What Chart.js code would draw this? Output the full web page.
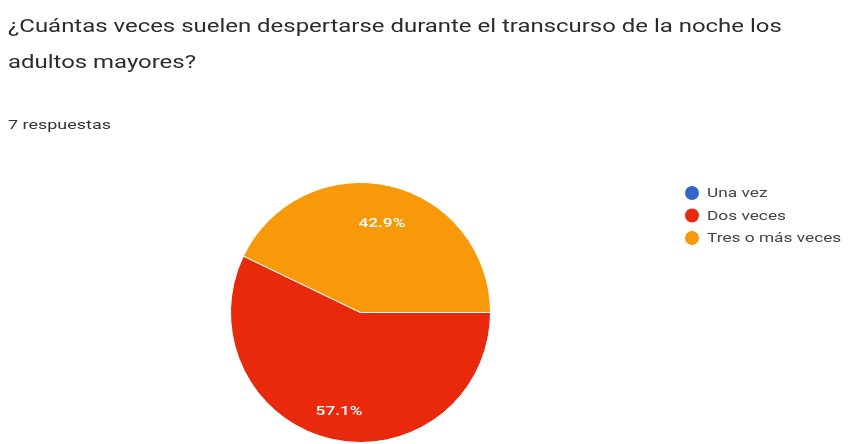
<!DOCTYPE html>
<html lang="es">
<head>
<meta charset="utf-8">
<title>¿Cuántas veces suelen despertarse durante el transcurso de la noche los adultos mayores?</title>
<script src="https://cdn.jsdelivr.net/npm/chart.js@4/dist/chart.umd.min.js"></script>
<style>
  html, body { margin: 0; padding: 0; background: #fff; }
  #wrap { position: relative; width: 852px; height: 444px; overflow: hidden; }
  #chart { position: absolute; left: 0; top: 0; }
  .question {
    position: absolute; left: 8px; top: 8px;
    font-family: Roboto, sans-serif; font-size: 18px; line-height: 36px;
    color: #2b2b2b; white-space: nowrap; transform-origin: 0 0;
  }
  .count {
    position: absolute; left: 8px; top: 116px;
    font-family: Roboto, sans-serif; font-size: 13.5px; color: #333;
    white-space: nowrap; transform-origin: 0 0;
  }
</style>
</head>
<body>
<div id="wrap">
  <canvas id="chart" width="852" height="444"></canvas>
  <div class="question" id="question">¿Cuántas veces suelen despertarse durante el transcurso de la noche los<br>adultos mayores?</div>
  <div class="count" id="count">7 respuestas</div>
</div>
<script>
// answers and how many people picked each one
const categories = ['Una vez', 'Dos veces', 'Tres o más veces'];
const responses = [0, 4, 3];
const sliceColors = ['#3366cc', '#e8290c', '#f8990a'];

// the form text is drawn a bit wider than plain Roboto
const textStretch = 1.33;
document.getElementById('question').style.transform = 'scaleX(' + textStretch + ')';
document.getElementById('count').style.transform = 'scaleX(' + textStretch + ')';

// percentage labels inside each slice
const percentLabels = {
  id: 'percentLabels',
  afterDatasetsDraw(chart) {
    const { ctx } = chart;
    const values = chart.data.datasets[0].data;
    const total = values.reduce((a, b) => a + b, 0);
    chart.getDatasetMeta(0).data.forEach((arc, i) => {
      if (!values[i]) return;
      const { x, y, startAngle, endAngle, outerRadius } = arc.getProps(['x', 'y', 'startAngle', 'endAngle', 'outerRadius']);
      const mid = (startAngle + endAngle) / 2;
      const r = outerRadius * 0.74;
      const lx = x + Math.cos(mid) * r;
      const ly = y + Math.sin(mid) * r + 5;
      ctx.save();
      ctx.translate(lx, ly);
      ctx.scale(textStretch, 1);
      ctx.fillStyle = '#fff';
      ctx.font = '500 13px Roboto, sans-serif';
      ctx.textAlign = 'center';
      ctx.textBaseline = 'middle';
      ctx.fillText((values[i] / total * 100).toFixed(1) + '%', 0, 0);
      ctx.restore();
    });
  }
};

// legend on the right: colored dot + answer text
const sideLegend = {
  id: 'sideLegend',
  afterDraw(chart) {
    const { ctx } = chart;
    const colors = chart.data.datasets[0].backgroundColor;
    chart.data.labels.forEach((label, i) => {
      const y = 193 + i * 22.5;
      ctx.save();
      ctx.fillStyle = colors[i];
      ctx.beginPath();
      ctx.arc(692, y, 7, 0, Math.PI * 2);
      ctx.fill();
      ctx.translate(707, y + 1);
      ctx.scale(textStretch, 1);
      ctx.fillStyle = '#444';
      ctx.font = '13px Roboto, sans-serif';
      ctx.textBaseline = 'middle';
      ctx.fillText(label, 0, 0);
      ctx.restore();
    });
  }
};

new Chart(document.getElementById('chart'), {
  type: 'pie',
  data: {
    labels: categories,
    datasets: [{
      data: responses,
      backgroundColor: sliceColors,
      borderColor: '#fff',
      borderWidth: 1
    }]
  },
  options: {
    responsive: false,
    animation: false,
    devicePixelRatio: 1,
    rotation: 90,
    layout: { padding: { left: 230, top: 182, right: 361, bottom: 1 } },
    plugins: {
      legend: { display: false },
      tooltip: { enabled: false }
    }
  },
  plugins: [percentLabels, sideLegend]
});
</script>
</body>
</html>
